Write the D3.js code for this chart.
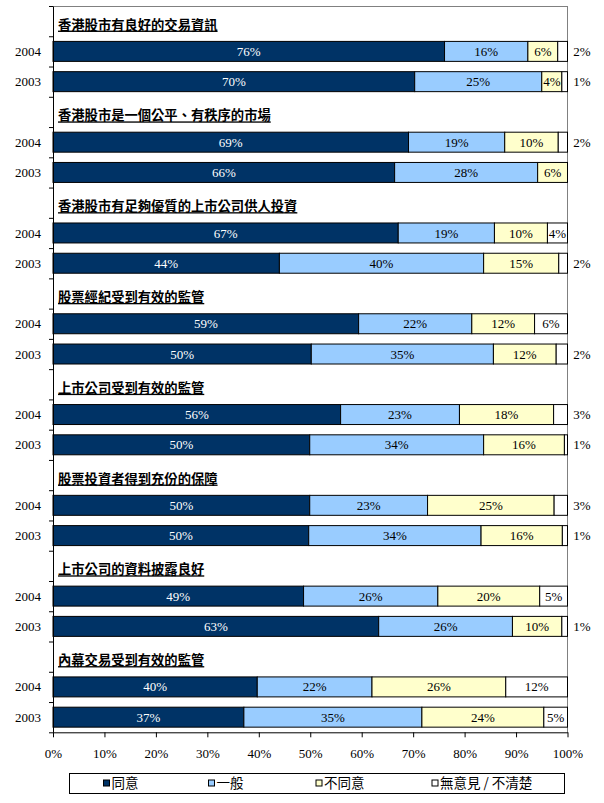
<!DOCTYPE html>
<html>
<head>
<meta charset="utf-8">
<script src="https://cdn.jsdelivr.net/npm/d3@7.9.0/dist/d3.min.js"></script>
<style>
  body { margin: 0; background: #fff; }
  svg { display: block; }
  .year, .value, .tick text { font-family: 'Liberation Serif', 'Times New Roman', serif; font-size: 13px; }
  .title { font-family: 'Noto Sans CJK TC', sans-serif; font-size: 13.3px; font-weight: 700; text-decoration: underline; }
  .legend text { font-family: 'Noto Sans CJK TC', sans-serif; font-size: 13.5px; }
</style>
</head>
<body>
<div id="chart"></div>
<script>
const titles = [
  '香港股市有良好的交易資訊',
  '香港股市是一個公平、有秩序的市場',
  '香港股市有足夠優質的上市公司供人投資',
  '股票經紀受到有效的監管',
  '上市公司受到有效的監管',
  '股票投資者得到充份的保障',
  '上市公司的資料披露良好',
  '內幕交易受到有效的監管'
];
const years = ['2004', '2003'];
const seriesNames = ['同意', '一般', '不同意', '無意見 / 不清楚'];

// one value per bar, in order: group 1 2004, group 1 2003, group 2 2004, ...
const agree    = [76.1, 70.3, 69.1, 66.4, 67.1, 44.0, 59.4, 50.2, 55.9, 49.9, 49.9, 49.7, 48.7, 63.3, 39.7, 37.1];
const neutral  = [16.2, 24.7, 18.7, 27.8, 18.7, 39.7, 22.0, 35.4, 23.1, 33.8, 22.9, 33.5, 26.1, 26.0, 22.3, 34.6];
const disagree = [5.8, 3.9, 10.4, 5.8, 10.3, 14.6, 12.2, 12.2, 18.3, 15.7, 24.6, 15.8, 19.8, 9.6, 26.0, 23.7];
const noIdea   = [1.9, 1.1, 1.8, 0, 3.9, 1.7, 6.4, 2.2, 2.7, 0.6, 2.6, 1.0, 5.4, 1.1, 12.0, 4.6];

const pctTicks = d3.range(0, 101, 10);

const width = 604;
const height = 803;
const colors = ['#003366', '#99ccff', '#ffffcc', '#ffffff'];
const plot = { left: 53, right: 567.5, top: 6, bottom: 732.3 };

const svg = d3.select('#chart')
  .append('svg')
  .attr('width', width)
  .attr('height', height);

// rows: a title row then one row per year, for every group
const rows = [];
const bars = [];
titles.forEach((t, gi) => {
  rows.push({ key: 'title' + gi, title: t });
  years.forEach((yr, yi) => {
    const i = gi * 2 + yi;
    const vals = [agree[i], neutral[i], disagree[i], noIdea[i]];
    const row = { key: 'bar' + i, year: yr, vals };
    rows.push(row);
    bars.push(row);
  });
});

const x = d3.scaleLinear()
  .domain([0, 100])
  .range([plot.left, plot.right]);

const y = d3.scaleBand()
  .domain(rows.map((d) => d.key))
  .range([plot.top, plot.bottom])
  .paddingInner(0.34)
  .paddingOuter(0.17);

const yEdges = d3.scaleLinear()
  .domain([0, rows.length])
  .range([plot.top, plot.bottom]);

// gray plot border on top and right
svg.append('line')
  .attr('x1', plot.left).attr('x2', plot.right)
  .attr('y1', plot.top + 0.5).attr('y2', plot.top + 0.5)
  .attr('stroke', '#808080');
svg.append('line')
  .attr('x1', plot.right).attr('x2', plot.right)
  .attr('y1', plot.top).attr('y2', plot.bottom)
  .attr('stroke', '#808080');

// stacked bars
const stackData = bars.map((b) => {
  let acc = 0;
  return b.vals.map((v, si) => {
    const seg = { row: b.key, si, v, x0: acc, x1: acc + v };
    acc += v;
    return seg;
  });
}).flat().filter((d) => d.v > 0);

svg.append('g')
  .selectAll('rect')
  .data(stackData)
  .join('rect')
  .attr('x', (d) => x(d.x0))
  .attr('y', (d) => y(d.row))
  .attr('width', (d) => x(d.x1) - x(d.x0))
  .attr('height', y.bandwidth())
  .attr('fill', (d) => colors[d.si])
  .attr('stroke', '#000')
  .attr('stroke-width', 1);

// value labels, small "no opinion" ones sit outside the plot
svg.append('g')
  .selectAll('text')
  .data(stackData)
  .join('text')
  .attr('class', 'value')
  .attr('x', (d) => (d.si === 3 && d.v < 3.5) ? 582 : x((d.x0 + d.x1) / 2))
  .attr('y', (d) => y(d.row) + y.bandwidth() / 2)
  .attr('dy', '0.35em')
  .attr('text-anchor', 'middle')
  .attr('fill', (d) => d.si === 0 ? '#fff' : '#000')
  .text((d) => Math.round(d.v) + '%');

// group titles
svg.append('g')
  .selectAll('text')
  .data(rows.filter((d) => d.title))
  .join('text')
  .attr('class', 'title')
  .attr('x', 58)
  .attr('y', (d) => y(d.key) + y.bandwidth() - 1.5)
  .text((d) => d.title);

// year labels
svg.append('g')
  .selectAll('text')
  .data(bars)
  .join('text')
  .attr('class', 'year')
  .attr('x', 41)
  .attr('y', (d) => y(d.key) + y.bandwidth() / 2)
  .attr('dy', '0.35em')
  .attr('text-anchor', 'end')
  .text((d) => d.year);

// left axis with ticks between categories
svg.append('g')
  .attr('transform', `translate(${plot.left},0)`)
  .call(d3.axisLeft(yEdges)
    .tickValues(d3.range(rows.length + 1))
    .tickFormat('')
    .tickSize(4)
    .tickSizeOuter(0))
  .call((g) => g.selectAll('path, line').attr('stroke', '#000'));

// bottom axis
svg.append('g')
  .attr('transform', `translate(0,${plot.bottom})`)
  .call(d3.axisBottom(x)
    .tickValues(pctTicks)
    .tickFormat((d) => d + '%')
    .tickSize(5)
    .tickSizeOuter(0)
    .tickPadding(11))
  .call((g) => g.selectAll('path, line').attr('stroke', '#000'))
  .call((g) => g.selectAll('text').attr('fill', '#000').style('font-size', '13px'));

// legend
const legend = svg.append('g').attr('class', 'legend');
legend.append('rect')
  .attr('x', 69.5).attr('y', 773.5)
  .attr('width', 495).attr('height', 20)
  .attr('fill', '#fff')
  .attr('stroke', '#000');

const legendX = [103.5, 208.5, 316, 432];
const items = legend.selectAll('g.item')
  .data(seriesNames)
  .join('g')
  .attr('class', 'item')
  .attr('transform', (d, i) => `translate(${legendX[i]},783.5)`);

items.append('rect')
  .attr('x', 0).attr('y', -3.5)
  .attr('width', 6).attr('height', 6)
  .attr('fill', (d, i) => colors[i])
  .attr('stroke', '#000');

items.append('text')
  .attr('x', 8)
  .attr('dy', '0.36em')
  .text((d) => d);
</script>
</body>
</html>
